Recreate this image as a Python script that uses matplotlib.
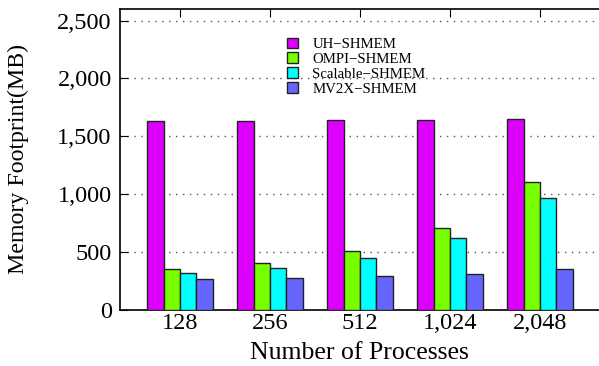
import numpy as np
import matplotlib
matplotlib.use("Agg")
import matplotlib.pyplot as plt
from matplotlib.ticker import FuncFormatter

procs = ["128", "256", "512", "1,024", "2,048"]
series = ["UH\u2212SHMEM", "OMPI\u2212SHMEM", "Scalable\u2212SHMEM", "MV2X\u2212SHMEM"]
uh = [1632, 1635, 1638, 1640, 1647]
ompi = [356, 408, 506, 707, 1109]
scalable = [316, 362, 448, 621, 968]
mv2x = [270, 278, 296, 308, 351]
colors = ["#dd00ff", "#77ff00", "#00ffff", "#6666ff"]

plt.rcParams['font.family'] = ['Liberation Serif', 'DejaVu Serif']

fig = plt.figure(figsize=(5.99, 3.66), dpi=100)
ax = fig.add_axes([120 / 599, 1 - 310 / 366, 1 - 120 / 599, 301 / 366])

x = np.arange(len(procs))
w = 0.183
for i, (vals, c, name) in enumerate(zip([uh, ompi, scalable, mv2x], colors, series)):
    ax.bar(x + (i - 1.5) * w, vals, w, color=c, edgecolor="#222222",
           linewidth=1.0, label=name, zorder=3)

ax.set_xlim(-0.667, 4.656)
ax.set_ylim(0, 2600)
ax.set_yticks([0, 500, 1000, 1500, 2000, 2500])
ax.yaxis.set_major_formatter(FuncFormatter(lambda v, p: f"{int(v):,}"))
ax.set_xticks(x)
ax.set_xticklabels(procs)
ax.tick_params(axis="x", direction="in", top=True, bottom=True, length=6,
               labelsize=17.5, pad=2)
ax.tick_params(axis="y", direction="in", left=True, length=6, labelsize=17.5, pad=6)
for yv in [500, 1000, 1500, 2000, 2500]:
    ax.axhline(yv, color="#555555", linestyle=(0, (1, 4)), linewidth=1.0, zorder=1)
for s in ax.spines.values():
    s.set_linewidth(1.2)
ax.spines["right"].set_visible(False)

ax.set_xlabel("Number of Processes", fontsize=18.5, labelpad=6)
ax.set_ylabel("Memory Footprint(MB)", fontsize=17.2, labelpad=20)

leg = ax.legend(loc="upper left", bbox_to_anchor=(0.349, 0.905), frameon=False,
                fontsize=10.7, handlelength=0.7, handleheight=0.7,
                handletextpad=1.0, labelspacing=0.1, borderpad=0,
                borderaxespad=0)

fig.savefig("out.png", dpi=100)
